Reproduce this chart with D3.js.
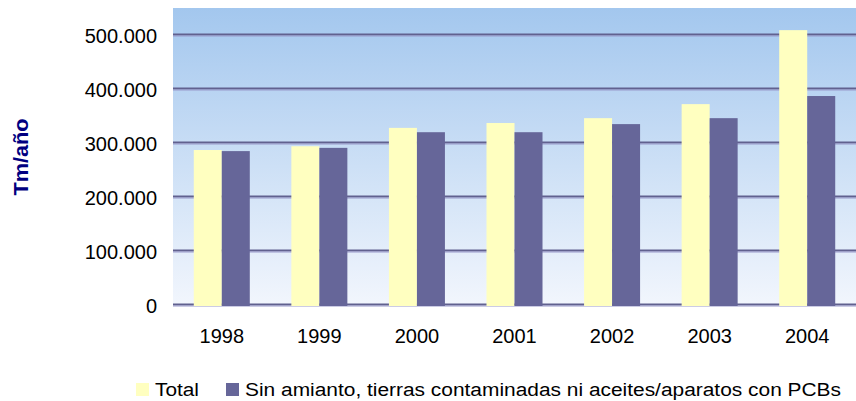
<!DOCTYPE html>
<html><head><meta charset="utf-8">
<script src="https://cdn.jsdelivr.net/npm/d3@7"></script>
<style>body{margin:0;background:#fff;} text{font-family:Arial,"Liberation Sans",sans-serif;}</style>
</head><body>
<svg id="c" width="856" height="401"></svg>
<script>
const categories = ["1998","1999","2000","2001","2002","2003","2004"];
const totalValues = [287000, 294000, 328000, 337000, 346000, 372000, 509000];
const sinValues = [285000, 291000, 320000, 320000, 335000, 346000, 387000];
const yTicks = [0, 100000, 200000, 300000, 400000, 500000];
const seriesNames = ["Total", "Sin amianto, tierras contaminadas ni aceites/aparatos con PCBs"];
const colors = ["#FFFFC0", "#666699"];

const svg = d3.select("#c");
const L = 173, R = 856, T = 8, B = 305;

const defs = svg.append("defs");
const g = defs.append("linearGradient").attr("id","bg").attr("x1",0).attr("y1",0).attr("x2",0).attr("y2",1);
g.append("stop").attr("offset","0%").attr("stop-color","#A3C7EE");
g.append("stop").attr("offset","100%").attr("stop-color","#F2F6FD");

svg.append("rect").attr("x",L).attr("y",T).attr("width",R-L).attr("height",B-T+1).attr("fill","url(#bg)");

const x = d3.scaleBand().domain(categories).range([L,R]).paddingInner(0.426).paddingOuter(0.213);
const y = d3.scaleLinear().domain([0,550000]).range([B,T]);

// gridlines
const grid = svg.append("g");
yTicks.forEach(v=>{
  grid.append("line").attr("x1",L).attr("x2",R).attr("y1",y(v)-0.5).attr("y2",y(v)-0.5).attr("stroke","#61618F").attr("stroke-width",2);
  grid.append("line").attr("x1",L).attr("x2",R).attr("y1",y(v)+1).attr("y2",y(v)+1).attr("stroke","#9A9ACB").attr("stroke-width",1);
});

const x1 = d3.scaleBand().domain([0,1]).range([0,x.bandwidth()]);
const data = categories.map((c,i)=>({c, vals:[totalValues[i], sinValues[i]]}));
const groups = svg.append("g").selectAll("g").data(data).join("g").attr("transform",d=>`translate(${x(d.c)},0)`);
groups.selectAll("rect").data(d=>d.vals.map((v,k)=>({v,k}))).join("rect")
  .attr("x",d=>x1(d.k)).attr("width",x1.bandwidth())
  .attr("y",d=>y(d.v)).attr("height",d=>B+1-y(d.v))
  .attr("fill",d=>colors[d.k]);

// y axis labels
const yAxis = d3.axisLeft(y).tickValues(yTicks).tickSize(0).tickPadding(0)
  .tickFormat(v=> v===0 ? "0" : d3.format(",")(v).replace(/,/g,"."));
const ya = svg.append("g").attr("transform",`translate(157,0)`).call(yAxis);
ya.select(".domain").remove();
ya.selectAll("text").attr("font-size","20px").attr("fill","#000").attr("dy","0.35em").style("font-family","Arial, 'Liberation Sans', sans-serif");

// x axis labels
const xAxis = d3.axisBottom(x).tickSize(0).tickPadding(0);
const xa = svg.append("g").attr("transform",`translate(0,328)`).call(xAxis);
xa.select(".domain").remove();
xa.selectAll("text").attr("font-size","20px").attr("fill","#000").attr("dy","0.75em").style("font-family","Arial, 'Liberation Sans', sans-serif");

// y title
svg.append("text").attr("transform","translate(28,157) rotate(-90)").attr("text-anchor","middle")
  .attr("font-size","20px").attr("font-weight","bold").attr("fill","#000080")
  .attr("textLength",77).attr("lengthAdjust","spacingAndGlyphs").text("Tm/año");

// legend
const legX = [136, 226];
const legLen = [44, 596];
seriesNames.forEach((n,i)=>{
  svg.append("rect").attr("x",legX[i]).attr("y",383).attr("width",13).attr("height",13).attr("fill",colors[i]);
  svg.append("text").attr("x",legX[i]+19).attr("y",396).attr("font-size","18px").attr("fill","#000")
    .attr("textLength",legLen[i]).attr("lengthAdjust","spacingAndGlyphs").text(n);
});
</script>
</body></html>
